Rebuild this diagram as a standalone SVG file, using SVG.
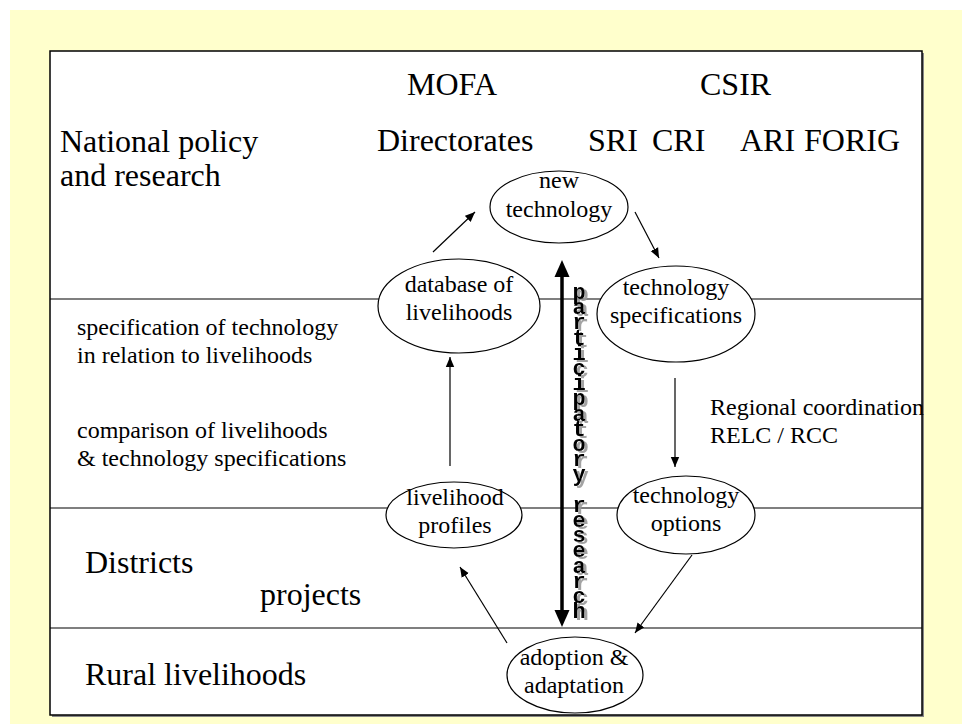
<svg xmlns="http://www.w3.org/2000/svg" width="962" height="724" viewBox="0 0 962 724">
  <style>
    .t32 { font-family: "Liberation Serif", "Times New Roman", serif; font-size: 32px; fill: #000; }
    .t24 { font-family: "Liberation Serif", "Times New Roman", serif; font-size: 24px; fill: #000; }
    .mid { text-anchor: middle; }
    .node ellipse { fill: #fff; stroke: #000; stroke-width: 1.2; }
    .band { stroke: #000; stroke-width: 1.2; }
    .conn { stroke: #000; stroke-width: 1.2; fill: none; marker-end: url(#head); }
    .vert { font-family: "Liberation Mono", "Courier New", monospace; font-size: 22px; font-weight: bold;
            writing-mode: vertical-rl; text-orientation: upright; letter-spacing: -9.8px; fill: #000; }
  </style>
  <defs>
    <marker id="head" viewBox="0 0 10 10" refX="10" refY="5" markerWidth="10" markerHeight="10" markerUnits="userSpaceOnUse" orient="auto">
      <path d="M0,0.8 L10,5 L0,9.2 Z" fill="#000"/>
    </marker>
    <filter id="shadow" x="-50%" y="-5%" width="200%" height="110%">
      <feDropShadow dx="3" dy="2" stdDeviation="0.6" flood-color="#999" flood-opacity="0.9"/>
    </filter>
  </defs>

  <!-- page background -->
  <rect x="0" y="0" width="962" height="724" fill="#fff"/>
  <rect x="10" y="10" width="952" height="714" fill="#FFFFCC"/>

  <!-- framed panel with soft shadow -->
  <rect x="52" y="53" width="872" height="664" fill="#888"/>
  <rect x="50" y="51" width="872" height="664" fill="#fff" stroke="#000" stroke-width="1.5"/>

  <!-- level dividers -->
  <g id="bands">
    <line class="band" x1="50" y1="299" x2="922" y2="299"/>
    <line class="band" x1="50" y1="508" x2="922" y2="508"/>
    <line class="band" x1="50" y1="628" x2="922" y2="628"/>
  </g>

  <!-- level and institution labels -->
  <g id="labels">
    <text class="t32" x="407" y="95">MOFA</text>
    <text class="t32" x="700" y="95">CSIR</text>
    <text class="t32" x="60" y="152">National policy</text>
    <text class="t32" x="60" y="186">and research</text>
    <text class="t32" x="377" y="151">Directorates</text>
    <text class="t32" x="588" y="151">SRI</text>
    <text class="t32" x="652" y="151">CRI</text>
    <text class="t32" x="740" y="151">ARI</text>
    <text class="t32" x="804" y="151">FORIG</text>
    <text class="t24" x="77" y="335">specification of technology</text>
    <text class="t24" x="77" y="363">in relation to livelihoods</text>
    <text class="t24" x="77" y="438">comparison of livelihoods</text>
    <text class="t24" x="77" y="466">&amp; technology specifications</text>
    <text class="t24" x="710" y="415">Regional coordination</text>
    <text class="t24" x="710" y="443">RELC / RCC</text>
    <text class="t32" x="85" y="573">Districts</text>
    <text class="t32" x="260" y="605">projects</text>
    <text class="t32" x="85" y="685">Rural livelihoods</text>
  </g>

  <!-- connectors -->
  <g id="connectors">
    <line class="conn" x1="433" y1="252" x2="475" y2="212"/>
    <line class="conn" x1="635" y1="212" x2="659" y2="258"/>
    <line class="conn" x1="675" y1="378" x2="675" y2="467"/>
    <line class="conn" x1="692" y1="555" x2="635" y2="633"/>
    <line class="conn" x1="507" y1="643" x2="460" y2="567"/>
    <line class="conn" x1="450" y1="466" x2="450" y2="357"/>
    <!-- two-way participatory research axis -->
    <line x1="562" y1="276" x2="562" y2="611" stroke="#000" stroke-width="3.5"/>
    <path d="M562,260 L569.5,277 L554.5,277 Z" fill="#000"/>
    <path d="M562,627 L569.5,610 L554.5,610 Z" fill="#000"/>
  </g>

  <!-- nodes -->
  <g id="new-technology" class="node">
    <ellipse cx="559" cy="207" rx="69" ry="36"/>
    <text class="t24 mid" x="559" y="188">new</text>
    <text class="t24 mid" x="559" y="217">technology</text>
  </g>
  <g id="database-of-livelihoods" class="node">
    <ellipse cx="459" cy="306" rx="81" ry="47"/>
    <text class="t24 mid" x="459" y="292">database of</text>
    <text class="t24 mid" x="459" y="320">livelihoods</text>
  </g>
  <g id="technology-specifications" class="node">
    <ellipse cx="676" cy="314" rx="79" ry="48"/>
    <text class="t24 mid" x="676" y="295">technology</text>
    <text class="t24 mid" x="676" y="323">specifications</text>
  </g>
  <g id="livelihood-profiles" class="node">
    <ellipse cx="454" cy="515" rx="68" ry="33"/>
    <text class="t24 mid" x="455" y="505">livelihood</text>
    <text class="t24 mid" x="455" y="533">profiles</text>
  </g>
  <g id="technology-options" class="node">
    <ellipse cx="686" cy="515" rx="69" ry="39"/>
    <text class="t24 mid" x="686" y="503">technology</text>
    <text class="t24 mid" x="686" y="531">options</text>
  </g>
  <g id="adoption-adaptation" class="node">
    <ellipse cx="575" cy="675" rx="68" ry="38"/>
    <text class="t24 mid" x="574" y="665">adoption &amp;</text>
    <text class="t24 mid" x="574" y="693">adaptation</text>
  </g>

  <!-- stacked vertical caption with drop shadow -->
  <g id="participatory-research">
    <text class="vert" x="579" y="281" filter="url(#shadow)">participatory research</text>
  </g>
</svg>
